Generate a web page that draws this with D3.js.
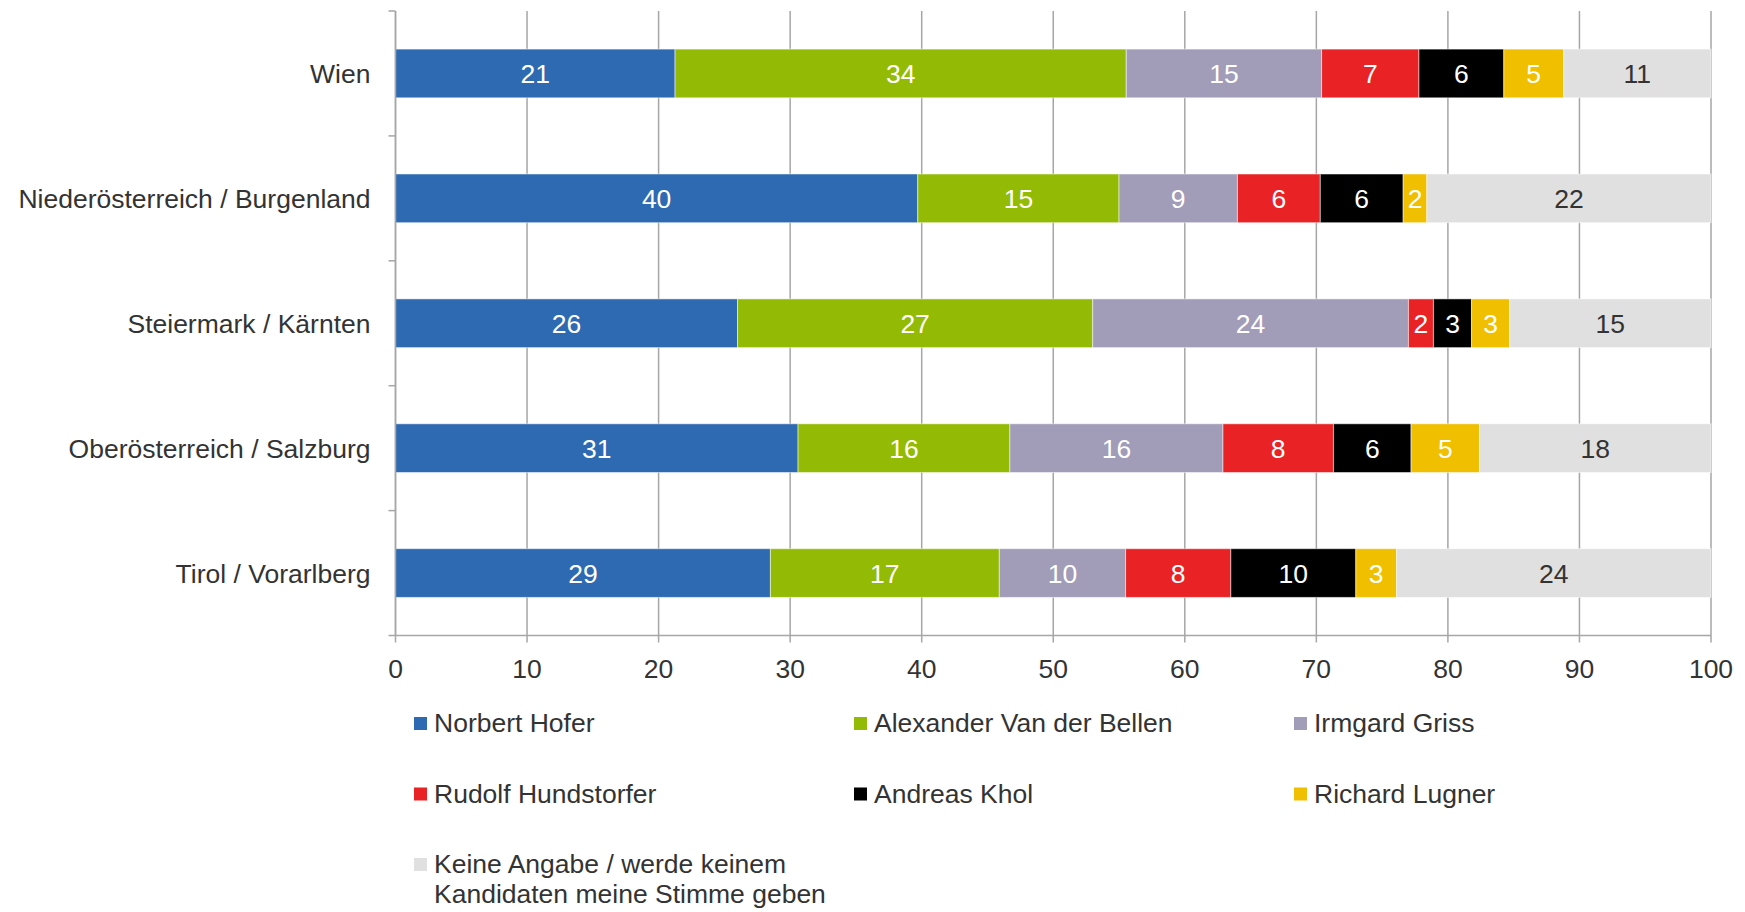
<!DOCTYPE html>
<html>
<head>
<meta charset="utf-8">
<script src="https://cdn.jsdelivr.net/npm/d3@7"></script>
<style>
  body { margin: 0; background: #fff; }
  text { font-family: "Liberation Sans", Arial, sans-serif; }
</style>
</head>
<body>
<svg id="chart" width="1745" height="912"></svg>
<script>
const regions = ["Wien", "Niederösterreich / Burgenland", "Steiermark / Kärnten", "Oberösterreich / Salzburg", "Tirol / Vorarlberg"];
const candidates = ["Norbert Hofer", "Alexander Van der Bellen", "Irmgard Griss", "Rudolf Hundstorfer", "Andreas Khol", "Richard Lugner", "Keine Angabe / werde keinem\nKandidaten meine Stimme geben"];
const colors = ["#2e6ab2", "#93bb06", "#a19cb8", "#e92325", "#000000", "#f0bf00", "#e0e0e0"];

// one array per candidate, values per region (same order as regions)
const hofer      = [21.25, 39.7, 26.0, 30.6, 28.5];
const vanDerBellen = [34.3, 15.3, 27.0, 16.1, 17.4];
const griss      = [14.85, 9.0, 24.0, 16.2, 9.6];
const hundstorfer = [7.4, 6.3, 1.9, 8.4, 8.0];
const khol       = [6.45, 6.3, 2.9, 5.9, 9.5];
const lugner     = [4.55, 1.8, 2.9, 5.2, 3.1];
const keine      = [11.2, 21.6, 15.3, 17.6, 23.9];
const xTicks = [0, 10, 20, 30, 40, 50, 60, 70, 80, 90, 100];

const series = [hofer, vanDerBellen, griss, hundstorfer, khol, lugner, keine];

const svg = d3.select("#chart");
const margin = {top: 11, left: 395.5, right: 34, bottom: 276.5};
const width = 1745, height = 912;
const innerW = width - margin.left - margin.right,
    innerH = height - margin.top - margin.bottom;
const fontSize = "26.5px";

const g = svg.append("g").attr("transform", `translate(${margin.left},${margin.top})`);

const x = d3.scaleLinear().domain([0, 100]).range([0, innerW]);
const y = d3.scaleBand().domain(regions).range([0, innerH]).paddingInner(0.61).paddingOuter(0.305);
const yTicks = d3.scaleBand().domain(regions).range([0, innerH]);

const rows = regions.map((r, i) => {
    const o = {region: r};
    candidates.forEach((c, j) => o[c] = series[j][i]);
    return o;
});
const stacked = d3.stack().keys(candidates)(rows);
const color = d3.scaleOrdinal().domain(candidates).range(colors);

// grid lines
g.append("g")
    .selectAll("line")
    .data(xTicks)
    .join("line")
    .attr("x1", d => x(d)).attr("x2", d => x(d))
    .attr("y1", 0).attr("y2", innerH + 7)
    .attr("stroke", "#a6a6a6")
    .attr("stroke-width", 1.5);

// x axis line + labels
g.append("line")
    .attr("x1", 0).attr("x2", innerW)
    .attr("y1", innerH).attr("y2", innerH)
    .attr("stroke", "#a6a6a6").attr("stroke-width", 1.5);

g.append("g")
    .selectAll("text")
    .data(xTicks)
    .join("text")
    .attr("x", d => x(d))
    .attr("y", innerH + 42)
    .attr("text-anchor", "middle")
    .attr("fill", "#333")
    .style("font-size", fontSize)
    .text(d => d);

// y axis ticks at band boundaries
const yBounds = regions.map(r => yTicks(r)).concat([innerH]);
g.append("g")
    .selectAll("line")
    .data(yBounds)
    .join("line")
    .attr("x1", -7).attr("x2", 0)
    .attr("y1", d => d).attr("y2", d => d)
    .attr("stroke", "#a6a6a6").attr("stroke-width", 1.5);

// bars
const layer = g.append("g")
    .selectAll("g")
    .data(stacked)
    .join("g")
    .attr("fill", d => color(d.key));

layer.selectAll("rect")
    .data(d => d)
    .join("rect")
    .attr("x", d => x(d[0]))
    .attr("width", d => x(d[1]) - x(d[0]))
    .attr("y", d => y(d.data.region))
    .attr("height", y.bandwidth())
    .attr("stroke", "rgba(255,255,255,0.5)")
    .attr("stroke-width", 1);

layer.selectAll("text")
    .data(d => d.map(v => Object.assign({}, v, {key: d.key})))
    .join("text")
    .attr("x", d => (x(d[0]) + x(d[1])) / 2)
    .attr("y", d => y(d.data.region) + y.bandwidth() / 2 + 9.5)
    .attr("text-anchor", "middle")
    .attr("fill", d => d.key === candidates[6] ? "#333" : "#fff")
    .style("font-size", fontSize)
    .text(d => Math.round(d[1] - d[0]));

// y axis line
g.append("line")
    .attr("x1", 0).attr("x2", 0)
    .attr("y1", 0).attr("y2", innerH)
    .attr("stroke", "#a6a6a6").attr("stroke-width", 1.5);

// category labels
g.append("g")
    .selectAll("text")
    .data(regions)
    .join("text")
    .attr("x", -25)
    .attr("y", d => y(d) + y.bandwidth() / 2 + 9.5)
    .attr("text-anchor", "end")
    .attr("fill", "#333")
    .style("font-size", fontSize)
    .text(d => d);

// legend
const legend = svg.append("g")
    .selectAll("g")
    .data(candidates)
    .join("g")
    .attr("transform", (d, i) => `translate(${414 + (i % 3) * 440},${717 + Math.floor(i / 3) * 70.5})`);

legend.append("rect")
    .attr("width", 13)
    .attr("height", 13)
    .attr("fill", color);

legend.append("text")
    .attr("x", 20)
    .attr("y", 15)
    .attr("fill", "#333")
    .style("font-size", fontSize)
    .selectAll("tspan")
    .data(d => d.split("\n"))
    .join("tspan")
    .attr("x", 20)
    .attr("dy", (d, i) => i === 0 ? 0 : 30)
    .text(d => d);
</script>
</body>
</html>
